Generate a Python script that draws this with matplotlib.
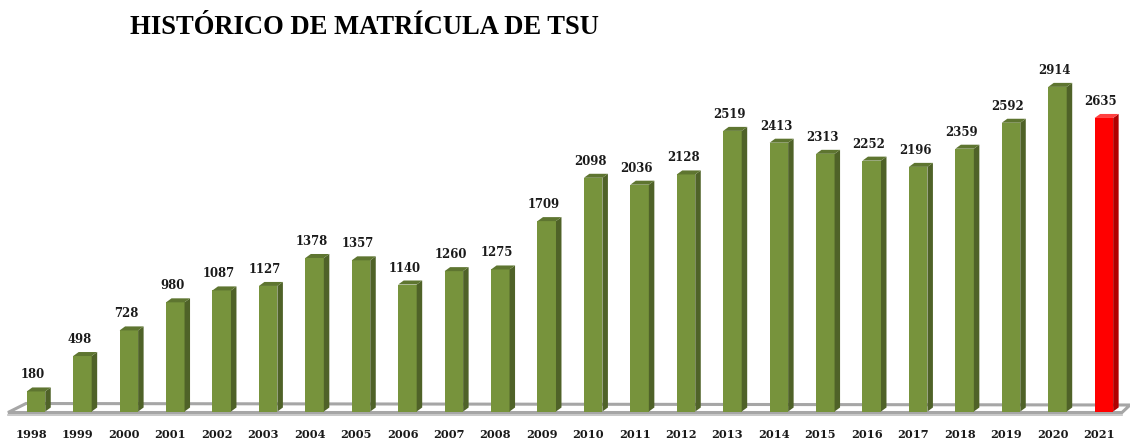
import matplotlib
matplotlib.use("Agg")
import matplotlib.pyplot as plt
from matplotlib.patches import Polygon

years = ["1998", "1999", "2000", "2001", "2002", "2003", "2004", "2005", "2006", "2007",
         "2008", "2009", "2010", "2011", "2012", "2013", "2014", "2015", "2016", "2017",
         "2018", "2019", "2020", "2021"]
values = [180, 498, 728, 980, 1087, 1127, 1378, 1357, 1140, 1260,
          1275, 1709, 2098, 2036, 2128, 2519, 2413, 2313, 2252, 2196,
          2359, 2592, 2914, 2635]
title = "HISTÓRICO DE MATRÍCULA DE TSU"

W, H = 1130, 441
fig = plt.figure(figsize=(W / 100, H / 100), dpi=100)
ax = fig.add_axes([0, 0, 1, 1])
ax.set_axis_off()

px_x = 46.43      # pixels per category
px_y = 0.1114     # pixels per unit
x0_px = 36.0      # pixel x of first category center
base_px = 411.5   # pixel y (from top) of baseline
ax.set_xlim(-x0_px / px_x, (W - x0_px) / px_x)
ax.set_ylim(-(H - base_px) / px_y, base_px / px_y)

def pxx(p):  # pixel x -> data x
    return (p - x0_px) / px_x

def pxy(p):  # pixel y (from top) -> data y
    return (base_px - p) / px_y

# floor plate
floor = Polygon([(pxx(8), pxy(412.5)), (pxx(1122), pxy(412.5)), (pxx(1130), pxy(405)),
                 (pxx(26), pxy(403.5))], closed=True, facecolor="white",
                edgecolor="#a6a6a6", lw=2.2, zorder=1)
ax.add_patch(floor)
ax.plot([pxx(8), pxx(1122)], [pxy(414.5), pxy(414.5)], color="#bfbfbf", lw=1.2, zorder=1)

bw = 18.5 / px_x
dx = 5.5 / px_x
dy = 4.0 / px_y
xs = list(range(len(years)))
front_cols = ["#FF0000" if y == "2021" else "#77933C" for y in years]
side_cols = ["#B00000" if y == "2021" else "#4F6228" for y in years]
top_cols = ["#FF4040" if y == "2021" else "#5E7530" for y in years]

ax.bar(xs, values, width=bw, color=front_cols, zorder=3, linewidth=0)
for x, v, sc, tc in zip(xs, values, side_cols, top_cols):
    r = x + bw / 2
    l = x - bw / 2
    ax.add_patch(Polygon([(r, 0), (r + dx, dy), (r + dx, v + dy), (r, v)], closed=True,
                         facecolor=sc, edgecolor="none", zorder=3))
    ax.add_patch(Polygon([(l, v), (r, v), (r + dx, v + dy), (l + dx, v + dy)], closed=True,
                         facecolor=tc, edgecolor="none", zorder=3))
    ax.text(x - 3 / px_x, v + 13 / px_y, f"{v}", ha="center", va="baseline",
            fontsize=8.4, fontweight="bold", family="DejaVu Serif", color="#1a1a1a", zorder=4)

for x, y in zip(xs, years):
    ax.text(x - 5 / px_x, pxy(438), y, ha="center", va="baseline", fontsize=8.2,
            fontweight="bold", family="DejaVu Serif", color="#1a1a1a")

fig.text(130 / W, 1 - 34 / H, title, ha="left", va="baseline", fontsize=19.2,
         fontweight="bold", family="Liberation Serif", color="#000000")

fig.savefig("out.png", dpi=100)
